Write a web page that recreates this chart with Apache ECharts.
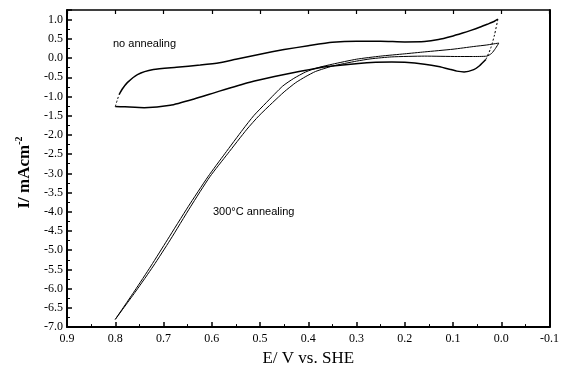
<!DOCTYPE html>
<html>
<head>
<meta charset="utf-8">
<script src="https://cdn.jsdelivr.net/npm/echarts@6/dist/echarts.min.js"></script>
<style>
  html, body { margin: 0; padding: 0; background: #fff; }
  #chart { width: 562px; height: 372px; }
</style>
</head>
<body>
<div id="chart"></div>
<script>
// E (V vs. SHE), I (mA cm^-2)
const noAnnealUpper = [[0.792, -0.95], [0.785, -0.80], [0.775, -0.64], [0.754, -0.43], [0.721, -0.30], [0.673, -0.24],
  [0.624, -0.18], [0.584, -0.12], [0.55, -0.03], [0.5, 0.10], [0.45, 0.22], [0.4, 0.32], [0.35, 0.41], [0.3, 0.44],
  [0.25, 0.44], [0.2, 0.42], [0.159, 0.43], [0.13, 0.48], [0.104, 0.56], [0.08, 0.65], [0.063, 0.72], [0.045, 0.80],
  [0.029, 0.88], [0.015, 0.95], [0.007, 1.01]]
const noAnnealTurnRight = [[0.007, 1.01], [0.014, 0.6], [0.022, 0.25], [0.032, -0.04]]
const noAnnealLower = [[0.032, -0.04], [0.045, -0.2], [0.057, -0.30], [0.077, -0.36], [0.092, -0.34], [0.104, -0.30],
  [0.13, -0.22], [0.159, -0.16], [0.2, -0.11], [0.227, -0.10], [0.26, -0.11], [0.296, -0.14], [0.35, -0.21],
  [0.385, -0.27], [0.419, -0.35], [0.47, -0.48], [0.521, -0.63], [0.584, -0.86], [0.638, -1.07], [0.686, -1.23],
  [0.74, -1.29], [0.78, -1.27], [0.80, -1.26]]
const noAnnealTurnLeft = [[0.80, -1.26], [0.796, -1.1], [0.792, -0.95]]

const annealedA = [[0.80, -6.8], [0.760, -6.06], [0.726, -5.41], [0.692, -4.73], [0.649, -3.87], [0.608, -3.09],
  [0.573, -2.49], [0.535, -1.85], [0.513, -1.5], [0.487, -1.16], [0.453, -0.73], [0.43, -0.53], [0.405, -0.36],
  [0.38, -0.25], [0.35, -0.16], [0.3, -0.03], [0.25, 0.05], [0.2, 0.11], [0.159, 0.16], [0.1, 0.23],
  [0.057, 0.30], [0.03, 0.34], [0.005, 0.39]]
const annealedB = [[0.005, 0.39], [0.012, 0.25], [0.02, 0.12], [0.03, 0.05], [0.06, 0.04], [0.091, 0.04],
  [0.159, 0.05], [0.227, 0.03], [0.27, -0.02], [0.3, -0.08], [0.35, -0.21], [0.385, -0.35], [0.405, -0.48],
  [0.426, -0.64], [0.45, -0.88], [0.474, -1.16], [0.502, -1.5], [0.527, -1.85], [0.567, -2.49], [0.604, -3.09],
  [0.644, -3.87], [0.686, -4.73], [0.721, -5.41], [0.757, -6.06], [0.80, -6.8]]

const xTitle = 'E/ V vs. SHE'
const yTitle = 'I/ mAcm{sup|-2}'
const labelNoAnneal = 'no annealing'
const labelAnneal = '300°C annealing'

const serif = '"Liberation Serif", "DejaVu Serif", serif'
const sans = '"Liberation Sans", Arial, sans-serif'

function curve (name, data, width, dashed) {
  return {
    name: name,
    type: 'line',
    data: data,
    smooth: 0.2,
    showSymbol: false,
    symbol: 'none',
    silent: true,
    lineStyle: { color: '#000', width: width, type: dashed ? [2, 2] : 'solid' }
  }
}

const chart = echarts.init(document.getElementById('chart'), null, { renderer: 'canvas' })
chart.setOption({
  backgroundColor: '#ffffff',
  animation: false,
  grid: { left: 67, right: 9, top: 10, bottom: 43 },
  xAxis: [{
    type: 'value',
    inverse: true,
    min: -0.1,
    max: 0.9,
    interval: 0.1,
    name: xTitle,
    nameLocation: 'middle',
    nameGap: 20,
    nameTextStyle: { fontFamily: serif, fontSize: 17, color: '#000' },
    axisLine: { show: true, onZero: false, lineStyle: { color: '#000', width: 2 } },
    axisTick: { show: true, inside: true, length: 5, lineStyle: { color: '#000', width: 1.5 } },
    minorTick: { show: true, splitNumber: 2, length: 3, lineStyle: { color: '#000', width: 1 } },
    splitLine: { show: false },
    axisLabel: {
      fontFamily: serif, fontSize: 12, color: '#000', margin: 6,
      formatter: v => (Math.abs(v) < 1e-9 ? 0 : v).toFixed(1)
    }
  }, {
    type: 'value',
    position: 'top',
    inverse: true,
    min: -0.1,
    max: 0.9,
    interval: 0.1,
    axisLine: { show: true, onZero: false, lineStyle: { color: '#000', width: 1.5 } },
    axisTick: { show: true, inside: true, length: 4, lineStyle: { color: '#000', width: 1.2 } },
    axisLabel: { show: false },
    splitLine: { show: false }
  }],
  yAxis: [{
    type: 'value',
    min: -7,
    max: 1.25,
    interval: 0.5,
    name: yTitle,
    nameLocation: 'middle',
    nameRotate: 90,
    nameGap: 25,
    nameTextStyle: {
      fontFamily: serif, fontSize: 17, fontWeight: 'bold', color: '#000', padding: [0, 8, 0, 0],
      rich: { sup: { fontFamily: serif, fontSize: 10, fontWeight: 'bold', verticalAlign: 'top', padding: [0, 0, 10, 0] } }
    },
    axisLine: { show: true, onZero: false, lineStyle: { color: '#000', width: 2 } },
    axisTick: { show: true, inside: true, length: 5, lineStyle: { color: '#000', width: 1.5 } },
    minorTick: { show: true, splitNumber: 2, length: 3, lineStyle: { color: '#000', width: 1 } },
    splitLine: { show: false },
    axisLabel: {
      fontFamily: serif, fontSize: 12, color: '#000', margin: 4, showMaxLabel: false,
      formatter: v => (Math.abs(v) < 1e-9 ? 0 : v).toFixed(1)
    }
  }, {
    type: 'value',
    position: 'right',
    min: -7,
    max: 1.25,
    interval: 0.5,
    axisLine: { show: true, onZero: false, lineStyle: { color: '#000', width: 2 } },
    axisTick: { show: false },
    axisLabel: { show: false },
    splitLine: { show: false }
  }],
  graphic: [
    {
      type: 'text', x: 113, y: 44,
      style: { text: labelNoAnneal, font: '11px ' + sans, fill: '#000', verticalAlign: 'middle', textVerticalAlign: 'middle' }
    },
    {
      type: 'text', x: 213, y: 212,
      style: { text: labelAnneal, font: '11px ' + sans, fill: '#000', verticalAlign: 'middle', textVerticalAlign: 'middle' }
    }
  ],
  series: [
    curve('no annealing', noAnnealUpper, 1.5, false),
    curve('no annealing turn', noAnnealTurnRight, 1, true),
    curve('no annealing', noAnnealLower, 1.5, false),
    curve('no annealing turn', noAnnealTurnLeft, 1, true),
    curve('300°C annealing', annealedA, 1, false),
    curve('300°C annealing', annealedB, 1, false)
  ]
})
</script>
</body>
</html>
